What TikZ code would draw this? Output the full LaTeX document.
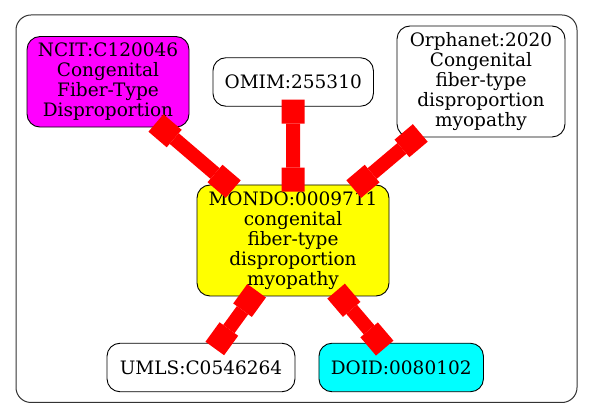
\documentclass[tikz,border=0pt]{standalone}
\usepackage{fontspec}
\setmainfont{DejaVu Serif}
\usetikzlibrary{arrows.meta}
\definecolor{gvmagenta}{RGB}{255,0,255}
\definecolor{gvcyan}{RGB}{0,255,255}
\definecolor{gvyellow}{RGB}{255,255,0}
\definecolor{gvred}{RGB}{255,0,0}
\tikzset{
  nodebox/.style={draw=black, line width=0.9pt, rounded corners=13pt, align=center,
    inner sep=0pt, font=\fontsize{18.5}{20}\selectfont},
  edgeline/.style={draw=gvred, line width=14pt,
    {Square[length=24pt,width=23pt,line width=0pt]}-{Square[length=24pt,width=23pt,line width=0pt]},
    shorten <=-7pt, shorten >=-7pt},
  clusterbox/.style={draw=black!80, line width=1pt, rounded corners=15pt}
}
\begin{document}
\begin{tikzpicture}[x=1pt,y=-1pt]
\useasboundingbox (0,0) rectangle (592,419);
\fill[white] (0,0) rectangle (592,419);
\draw[clusterbox] (16,15) rectangle (577,402.5);
\node[nodebox, fill=gvmagenta, minimum width=162pt, minimum height=90.5pt] (ncit) at (108,81.8)
  {NCIT:C120046\\Congenital\\Fiber-Type\\Disproportion};
\node[nodebox, fill=white, minimum width=160.5pt, minimum height=48.5pt] (omim) at (293.2,82)
  {OMIM:255310};
\node[nodebox, fill=white, minimum width=168pt, minimum height=111pt] (orpha) at (481,81.5)
  {Orphanet:2020\\Congenital\\fiber-type\\disproportion\\myopathy};
\node[nodebox, fill=gvyellow, minimum width=192pt, minimum height=111pt] (mondo) at (293,240.5)
  {MONDO:0009711\\congenital\\fiber-type\\disproportion\\myopathy};
\node[nodebox, fill=white, minimum width=188pt, minimum height=48.5pt] (umls) at (201,367.5)
  {UMLS:C0546264};
\node[nodebox, fill=gvcyan, minimum width=164.5pt, minimum height=48.5pt] (doid) at (401.2,367.5)
  {DOID:0080102};
\draw[edgeline] (ncit) -- (mondo);
\draw[edgeline] (omim) -- (mondo);
\draw[edgeline] (orpha) -- (mondo);
\draw[edgeline] (mondo) -- (umls);
\draw[edgeline] (mondo) -- (doid);
\end{tikzpicture}
\end{document}
